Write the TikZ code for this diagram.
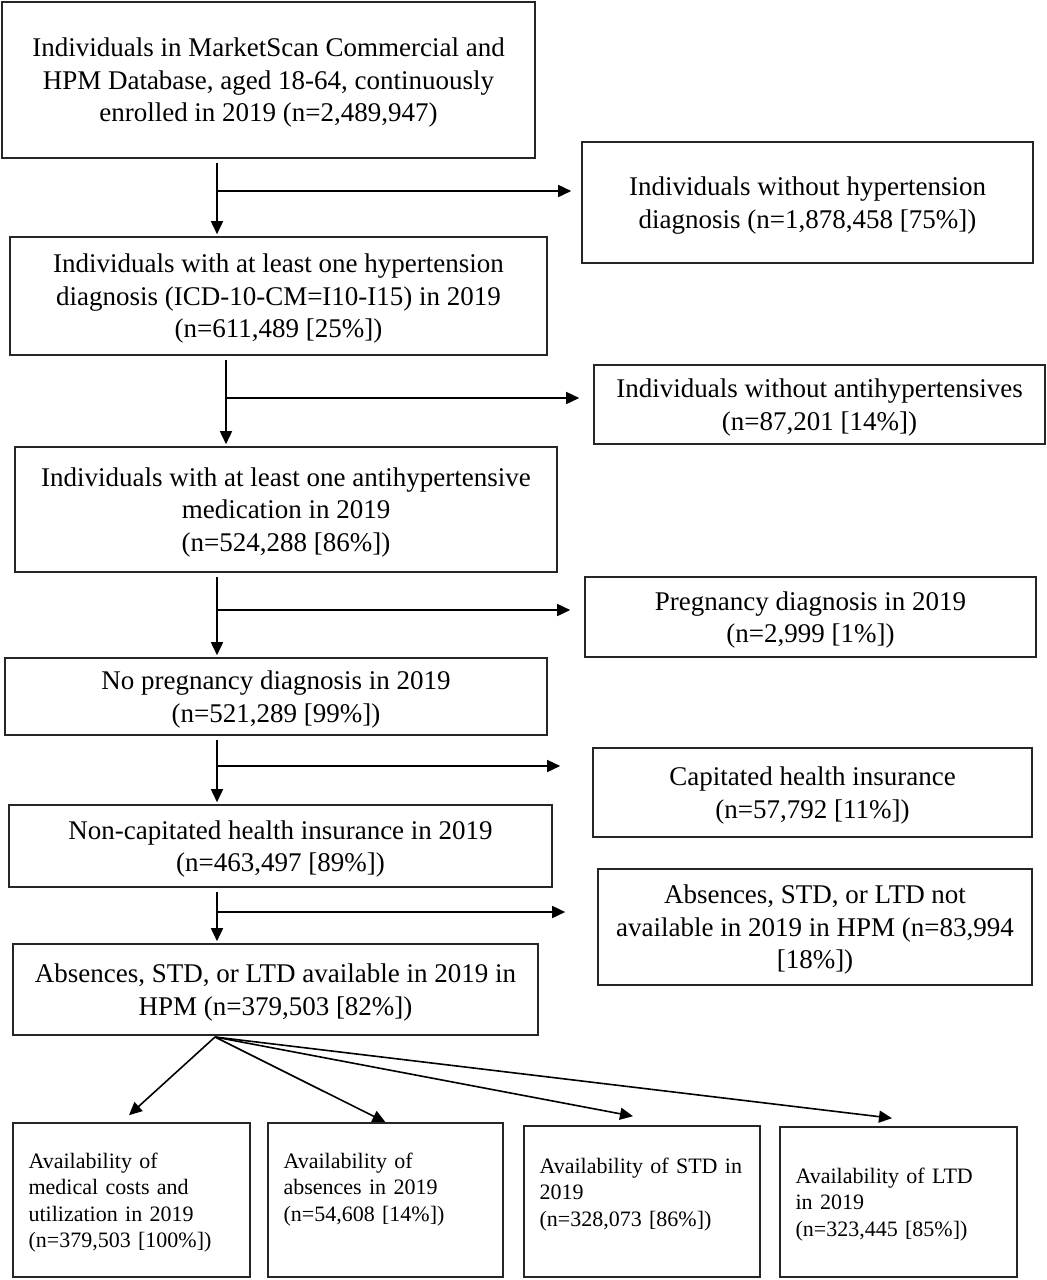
\documentclass[tikz,border=0pt]{standalone}
\usepackage{fontspec}
\setmainfont{Liberation Serif}
\usetikzlibrary{arrows.meta}
\newcommand{\boxfont}{\fontsize{13.5pt}{16.25pt}\selectfont}
\newcommand{\availfont}{\fontsize{11pt}{13.25pt}\selectfont}
\newcommand{\lw}{0.8pt}
\tikzset{
  flowbox/.style={draw=black!85, line width=\lw, align=center, inner sep=0pt, font=\boxfont, text depth=-2pt},
  availbox/.style={draw=black!85, line width=\lw, inner sep=0pt},
  availtext/.style={align=left, inner sep=0pt, font=\availfont, text width=103pt, anchor=north west},
  arr/.style={line width=\lw, -{Triangle[length=6.5pt,width=6pt]}}
}

\begin{document}
\begin{tikzpicture}[x=0.5pt, y=-0.5pt]
        \useasboundingbox (0,0) rectangle (1047,1280);

        % main column
        \node (b1) at (268.5,80) [flowbox, minimum width=266.5pt, minimum height=78pt]
          {Individuals in MarketScan Commercial and\\HPM Database, aged 18-64, continuously\\enrolled in 2019 (n=2,489,947)};
        \node (b2) at (278.5,296) [flowbox, minimum width=268.5pt, minimum height=59pt]
          {Individuals with at least one hypertension\\diagnosis (ICD-10-CM=I10-I15) in 2019\\(n=611,489 [25\%])};
        \node (b3) at (286,509.5) [flowbox, minimum width=271pt, minimum height=62.5pt]
          {Individuals with at least one antihypertensive\\medication in 2019\\(n=524,288 [86\%])};
        \node (b4) at (276,696.5) [flowbox, minimum width=271pt, minimum height=38.5pt]
          {No pregnancy diagnosis in 2019\\(n=521,289 [99\%])};
        \node (b5) at (280.5,846) [flowbox, minimum width=271.5pt, minimum height=41pt]
          {Non-capitated health insurance in 2019\\(n=463,497 [89\%])};
        \node (b6) at (275.5,989.5) [flowbox, minimum width=262.5pt, minimum height=45.5pt]
          {Absences, STD, or LTD available in 2019 in\\HPM (n=379,503 [82\%])};

        % excluded
        \node (r1) at (807.5,202.5) [flowbox, minimum width=225.5pt, minimum height=60.5pt]
          {Individuals without hypertension\\diagnosis (n=1,878,458 [75\%])};
        \node (r2) at (819.5,404.5) [flowbox, minimum width=225.5pt, minimum height=39.5pt]
          {Individuals without antihypertensives\\(n=87,201 [14\%])};
        \node (r3) at (810.5,617) [flowbox, minimum width=225.5pt, minimum height=40pt]
          {Pregnancy diagnosis in 2019\\(n=2,999 [1\%])};
        \node (r4) at (812.5,792.5) [flowbox, minimum width=219.5pt, minimum height=44.5pt]
          {Capitated health insurance\\(n=57,792 [11\%])};
        \node (r5) at (815,927) [flowbox, minimum width=217pt, minimum height=58pt]
          {Absences, STD, or LTD not\\available in 2019 in HPM (n=83,994\\{}[18\%])};

        % outcomes
        \node (c1) at (131.5,1200) [availbox, minimum width=118.5pt, minimum height=77pt] {};
        \node (c2) at (385.5,1200) [availbox, minimum width=117.5pt, minimum height=77pt] {};
        \node (c3) at (642,1201.5) [availbox, minimum width=118pt, minimum height=75.5pt] {};
        \node (c4) at (898.5,1202) [availbox, minimum width=118.5pt, minimum height=75pt] {};
        \node (c1t) at ([xshift=8pt, yshift=-15pt]c1.north west) [availtext]
          {Availability of\\medical costs and\\utilization in 2019\\(n=379,503 [100\%])};
        \node (c2t) at ([xshift=8pt, yshift=-15pt]c2.north west) [availtext]
          {Availability of\\absences in 2019\\(n=54,608 [14\%])};
        \node (c3t) at ([xshift=8pt, yshift=-16pt]c3.north west) [availtext]
          {Availability of STD in\\2019\\(n=328,073 [86\%])};
        \node (c4t) at ([xshift=8pt, yshift=-20.5pt]c4.north west) [availtext]
          {Availability of LTD\\in 2019\\(n=323,445 [85\%])};

        \foreach \a/\b/\x/\y/\g in {1/2/217/191/5pt, 2/3/226/398/7pt, 3/4/217/610/7pt, 4/5/217/766/16pt, 5/6/217/912/16pt}
                 {
                   \coordinate (j\a) at (\x,\y);
                   \draw[arr, shorten <=2pt, shorten >=1pt] (b\a.south -| j\a) -- (b\b.north -| j\a);
                   \draw[arr, shorten >=\g] (j\a) -- (j\a -| r\a.west);
                 }

        \coordinate (fan) at (215,1037);
        \foreach \i/\dx/\dy in {1/-1.25pt/3.5pt, 2/0pt/0pt, 3/-4.5pt/4.5pt, 4/-3.25pt/4pt}
                 \draw[arr] (fan) -- ([xshift=\dx, yshift=\dy]c\i.north);
      \end{tikzpicture}
\end{document}
